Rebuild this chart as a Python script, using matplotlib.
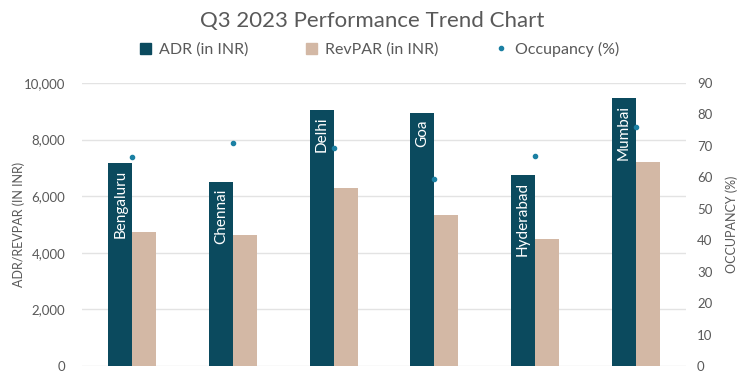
import matplotlib
matplotlib.use("Agg")
import matplotlib.pyplot as plt
import numpy as np
from matplotlib.ticker import FuncFormatter, MultipleLocator
from matplotlib.lines import Line2D
from matplotlib.patches import Patch

plt.rcParams['font.family'] = ['Lato', 'DejaVu Sans']

cities = ["Bengaluru", "Chennai", "Delhi", "Goa", "Hyderabad", "Mumbai"]
adr = [7160, 6500, 9050, 8930, 6740, 9450]
revpar = [4740, 4630, 6290, 5330, 4490, 7210]
occupancy = [66.4, 71.0, 69.4, 59.5, 66.8, 76.1]

c_adr = "#0B4A5E"
c_rev = "#D3B8A5"
c_occ = "#1B80A3"
c_text = "#595959"
c_grid = "#E3E3E3"

fig = plt.figure(figsize=(7.44, 3.8), dpi=100)
ax = fig.add_axes([0.110, 0.0368, 0.812, 0.745])
ax2 = ax.twinx()

x = np.arange(len(cities))
w = 0.238
ax.bar(x - w / 2, adr, width=w, color=c_adr, zorder=2)
ax.bar(x + w / 2, revpar, width=w, color=c_rev, zorder=2)
ax2.scatter(x, occupancy, s=9, color=c_occ, zorder=3)

ax.set_xlim(-0.5, len(cities) - 0.5)
ax.set_ylim(0, 10000)
ax2.set_ylim(0, 90)
ax.yaxis.set_major_locator(MultipleLocator(2000))
ax2.yaxis.set_major_locator(MultipleLocator(10))
ax.yaxis.set_major_formatter(FuncFormatter(lambda v, p: f"{int(v):,}"))
ax.set_xticks([])
ax.grid(axis='y', color=c_grid, linewidth=1, zorder=0)
ax.set_axisbelow(True)
for a in (ax, ax2):
    for s in a.spines.values():
        s.set_visible(False)
    a.tick_params(length=0, labelsize=9.5, colors=c_text)
ax.tick_params(axis='y', pad=12)
ax2.tick_params(axis='y', pad=8)

for xi, v, name in zip(x, adr, cities):
    ax.text(xi - w / 2, v - 220, name, rotation=90, ha='center', va='top',
            color='white', fontsize=11, zorder=4)

ax.set_ylabel("ADR/REVPAR (IN INR)", fontsize=9, color=c_text)
ax.yaxis.set_label_coords(-0.094, 0.5)
ax2.set_ylabel("OCCUPANCY (%)", fontsize=9, color=c_text)
ax2.yaxis.set_label_coords(1.066, 0.5)

fig.text(0.5, 0.945, "Q3 2023 Performance Trend Chart", ha='center', va='center',
         fontsize=16, color=c_text)

handles = [Patch(color=c_adr), Patch(color=c_rev),
           Line2D([], [], marker='o', linestyle='none', markersize=3, color=c_occ)]
labels = ["ADR (in INR)", "RevPAR (in INR)", "Occupancy (%)"]
fig.legend(handles, labels, loc='center', bbox_to_anchor=(0.51, 0.87), ncol=3,
           frameon=False, fontsize=11.5, labelcolor=c_text, columnspacing=3.6,
           handlelength=0.7, handleheight=0.7, handletextpad=0.5)

fig.savefig("out.png", dpi=100)
